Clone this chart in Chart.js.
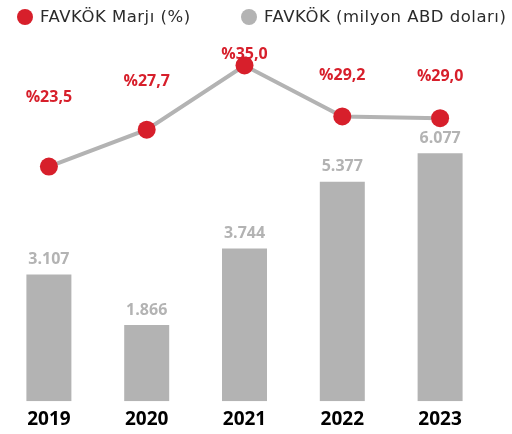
<!DOCTYPE html>
<html>
<head>
<meta charset="utf-8">
<script src="https://cdn.jsdelivr.net/npm/chart.js@4/dist/chart.umd.min.js"></script>
<style>
    body { margin: 0; background: #ffffff; }
    #wrap { width: 512px; height: 434px; }
</style>
</head>
<body>
<div id="wrap"><canvas id="favkok-chart" width="512" height="434"></canvas></div>
<script>
const years = ["2019", "2020", "2021", "2022", "2023"];
const favkok = [3107, 1866, 3744, 5377, 6077];       // milyon ABD doları
const margin = [23.5, 27.7, 35.0, 29.2, 29.0];      // %
const seriesNames = ["FAVKÖK Marjı (%)", "FAVKÖK (milyon ABD doları)"];

const red = "#d71f2b";
const grey = "#b3b3b3";

function formatThousands(v) {
    return String(v).replace(/\B(?=(\d{3})+(?!\d))/g, ".");
}

function formatPercent(v) {
    return "%" + v.toFixed(1).replace(".", ",");
}

// value labels above bars and above margin points
const valueLabels = {
    id: "valueLabels",
    afterDatasetsDraw(chart) {
        const ctx = chart.ctx;
        ctx.save();
        ctx.textAlign = "center";
        ctx.textBaseline = "middle";
        ctx.font = "bold 16px 'Open Sans'";

        const barMeta = chart.getDatasetMeta(1);
        ctx.fillStyle = grey;
        barMeta.data.forEach((bar, i) => {
            ctx.fillText(formatThousands(favkok[i]), bar.x, bar.y - 15);
        });

        const lineMeta = chart.getDatasetMeta(0);
        ctx.fillStyle = red;
        lineMeta.data.forEach((pt, i) => {
            ctx.fillText(formatPercent(margin[i]), pt.x, 0.42 * pt.y + 27);
        });
        ctx.restore();
    }
};

// legend row across the top
const topLegend = {
    id: "topLegend",
    afterDraw(chart) {
        const ctx = chart.ctx;
        const items = [
            { x: 25, color: red, text: chart.data.datasets[0].label },
            { x: 249, color: grey, text: chart.data.datasets[1].label }
        ];
        ctx.save();
        ctx.font = "16.5px 'DejaVu Sans'";
        ctx.letterSpacing = "0.5px";
        ctx.textBaseline = "middle";
        ctx.textAlign = "left";
        items.forEach(item => {
            ctx.beginPath();
            ctx.arc(item.x, 17, 8, 0, Math.PI * 2);
            ctx.fillStyle = item.color;
            ctx.fill();
            ctx.fillStyle = "#2b2b2b";
            ctx.fillText(item.text, item.x + 15, 18);
        });
        ctx.restore();
    }
};

const ctx = document.getElementById("favkok-chart").getContext("2d");
const chart = new Chart(ctx, {
    data: {
        labels: years,
        datasets: [
            {
                type: "line",
                label: seriesNames[0],
                data: margin,
                yAxisID: "y2",
                borderColor: grey,
                borderWidth: 4,
                backgroundColor: red,
                pointBackgroundColor: red,
                pointBorderColor: red,
                pointRadius: 9,
                pointBorderWidth: 0,
                tension: 0
            },
            {
                type: "bar",
                label: seriesNames[1],
                data: favkok,
                yAxisID: "y",
                backgroundColor: grey,
                borderWidth: 0,
                categoryPercentage: 0.92,
                barPercentage: 0.5
            }
        ]
    },
    options: {
        responsive: false,
        animation: false,
        layout: { autoPadding: false, padding: { left: 0, right: 23, top: 40, bottom: -4 } },
        plugins: {
            tooltip: { enabled: false },
            legend: { display: false }
        },
        scales: {
            x: {
                grid: { display: false, drawTicks: false },
                border: { display: false },
                ticks: {
                    color: "#000000",
                    padding: 7,
                    font: { family: "'Open Sans'", size: 19, weight: "bold" }
                }
            },
            y: {
                display: false,
                min: 0,
                max: 8850
            },
            y2: {
                display: false,
                min: -3.2,
                max: 37.9
            }
        }
    },
    plugins: [valueLabels, topLegend]
});
</script>
</body>
</html>
